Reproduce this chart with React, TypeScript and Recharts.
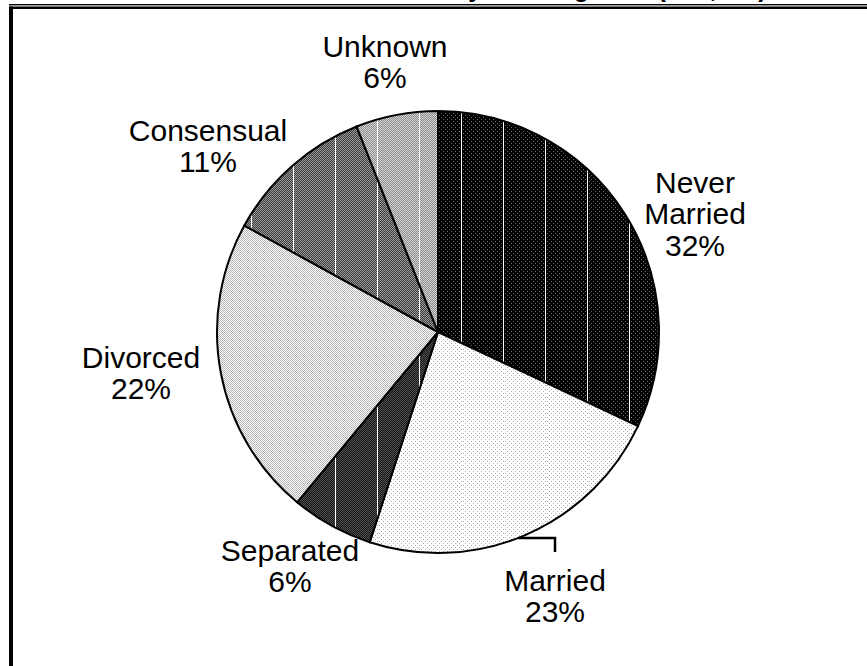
import React from "react";
import { PieChart, Pie, Cell } from "recharts";

// ---- data ----
const categories = ["Never Married", "Married", "Separated", "Divorced", "Consensual", "Unknown"];
const percentages = [32, 23, 6, 22, 11, 6];
const titleText = "Marital Status by Housing Area (n=2,004)";

const data = categories.map((name, i) => ({ name, value: percentages[i] }));

// ---- style ----
const FILLS = ["url(#pNever)", "url(#pMarried)", "url(#pSep)", "url(#pDiv)", "url(#pCons)", "url(#pUnk)"];
// first-line centre of each label, relative to pie centre
const LABEL_OFFSETS: [number, number][] = [
  [257, -150],
  [117, 248],
  [-148, 218],
  [-297, 25],
  [-230, -202],
  [-53, -286],
];
const LEADER = [false, true, false, false, false, false];
const LINE_H = 31.5;
const FONT = "'Liberation Sans', Arial, Helvetica, sans-serif";
const CX = 438;
const CY = 332;
const R = 221;

const renderLabel = (props: any) => {
  const { cx, cy, index, outerRadius } = props;
  const [ox, oy] = LABEL_OFFSETS[index];
  const lines = [...categories[index].split(" "), `${percentages[index]}%`];
  const x = cx + ox;
  const y0 = cy + oy;
  let leader = null;
  if (LEADER[index]) {
    const hy = y0 - 42;
    const dy = hy - cy;
    const hx0 = cx + Math.sqrt(Math.max(outerRadius * outerRadius - dy * dy, 0));
    leader = (
      <path d={`M${hx0},${hy} H${x} V${y0 - 28}`} stroke="#000" strokeWidth={2.5} fill="none" />
    );
  }
  return (
    <g key={`lbl-${index}`}>
      {leader}
      {lines.map((t, i) => (
        <text
          key={i}
          x={x}
          y={y0 + i * LINE_H}
          dy="0.36em"
          textAnchor="middle"
          fontFamily={FONT}
          fontSize={30}
          fill="#000"
        >
          {t}
        </text>
      ))}
    </g>
  );
};

const Checker = ({ id, a, b }: { id: string; a: string; b: string }) => (
  <pattern id={id} width={2} height={2} patternUnits="userSpaceOnUse">
    <rect width={2} height={2} fill={a} />
    <rect x={0} y={0} width={1} height={1} fill={b} />
    <rect x={1} y={1} width={1} height={1} fill={b} />
  </pattern>
);

const Lined = ({ id, base, line }: { id: string; base: string; line: boolean }) => (
  <pattern id={id} width={42} height={4} patternUnits="userSpaceOnUse">
    <rect width={42} height={4} fill={`url(#${base})`} />
    {line ? <rect x={41} y={0} width={1} height={4} fill="#fff" /> : null}
  </pattern>
);

export default function App() {
  return (
    <div
      style={{
        position: "absolute",
        left: 0,
        top: 0,
        width: 867,
        height: 666,
        overflow: "hidden",
        background: "#fff",
      }}
    >
      <svg width={867} height={666} style={{ position: "absolute", left: 0, top: 0 }}>
        <defs>
          <pattern id="dNever" width={4} height={4} patternUnits="userSpaceOnUse">
            <rect width={4} height={4} fill="#000" />
            <rect x={1} y={1} width={1} height={1} fill="#6a6a6a" />
            <rect x={3} y={3} width={1} height={1} fill="#6a6a6a" />
          </pattern>
          <pattern id="dMarried" width={4} height={4} patternUnits="userSpaceOnUse">
            <rect width={4} height={4} fill="#fff" />
            <rect x={1} y={1} width={1} height={1} fill="#aaa" />
            <rect x={3} y={3} width={1} height={1} fill="#aaa" />
          </pattern>
          <Checker id="cSep" a="#161616" b="#505050" />
          <Checker id="cDiv" a="#ffffff" b="#b2b2b2" />
          <Checker id="cCons" a="#3a3a3a" b="#9c9c9c" />
          <Checker id="cUnk" a="#8e8e8e" b="#d2d2d2" />
          <Lined id="pNever" base="dNever" line={true} />
          <Lined id="pMarried" base="dMarried" line={false} />
          <Lined id="pSep" base="cSep" line={true} />
          <Lined id="pDiv" base="cDiv" line={false} />
          <Lined id="pCons" base="cCons" line={true} />
          <Lined id="pUnk" base="cUnk" line={true} />
        </defs>
      </svg>
      <div style={{ position: "absolute", left: 0, top: 0 }}>
        <PieChart width={867} height={666} margin={{ top: 0, right: 0, bottom: 0, left: 0 }}>
          <Pie
            data={data}
            dataKey="value"
            nameKey="name"
            cx={CX}
            cy={CY}
            outerRadius={R}
            startAngle={90}
            endAngle={-270}
            stroke="#000"
            strokeWidth={2}
            label={renderLabel}
            labelLine={false}
            isAnimationActive={false}
          >
            {data.map((d, i) => (
              <Cell key={d.name} fill={FILLS[i]} />
            ))}
          </Pie>
        </PieChart>
      </div>
      <svg
        width={867}
        height={666}
        style={{ position: "absolute", left: 0, top: 0, pointerEvents: "none" }}
      >
        <text x={282} y={-3} fontFamily={FONT} fontWeight="bold" fontSize={25} fill="#000">
          {titleText}
        </text>
        <rect x={9} y={4} width={858} height={1.4} fill="#000" />
        <rect x={9} y={6.5} width={858} height={2.5} fill="#000" />
        <rect x={9} y={6.5} width={4} height={660} fill="#000" />
      </svg>
    </div>
  );
}
